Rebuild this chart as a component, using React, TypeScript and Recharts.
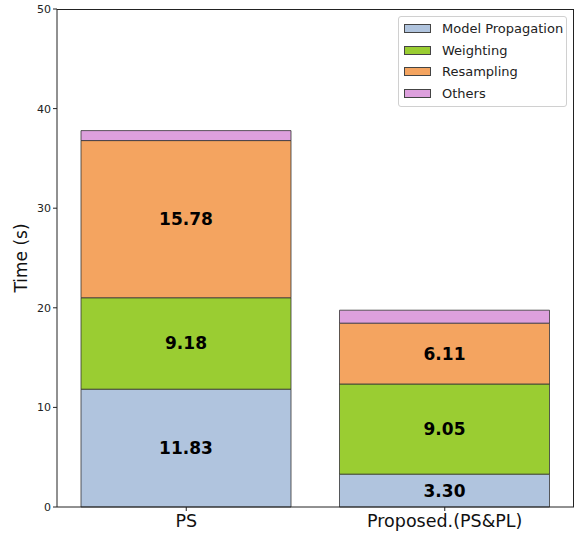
import React from 'react';
import { BarChart, Bar, XAxis, YAxis, LabelList } from 'recharts';

const categories = ['PS', 'Proposed.(PS&PL)'];
const modelPropagation = [11.83, 3.30];
const weighting = [9.18, 9.05];
const resampling = [15.78, 6.11];
const others = [1.0, 1.3];
const yTicks = [0, 10, 20, 30, 40, 50];

const seriesNames = ['Model Propagation', 'Weighting', 'Resampling', 'Others'];
const seriesKeys = ['mp', 'w', 'r', 'o'];
const seriesColors = ['#B0C4DE', '#9ACD32', '#F4A460', '#DDA0DD'];

const data = categories.map((c, i) => ({
  name: c,
  mp: modelPropagation[i],
  w: weighting[i],
  r: resampling[i],
  o: others[i],
}));

const FONT = 'DejaVu Sans, sans-serif';

const LegendBox = () => (
  <div
    style={{
      position: 'absolute',
      left: 398,
      top: 16,
      border: '1px solid #d0d0d0',
      borderRadius: 3,
      background: 'rgba(255,255,255,0.8)',
      width: 169,
      height: 91,
      boxSizing: 'border-box',
      padding: '1px 0 0 5px',
      fontFamily: FONT,
      fontSize: 13,
      color: '#222',
    }}
  >
    {seriesNames.map((n, i) => (
      <div key={n} style={{ display: 'flex', alignItems: 'center', height: 21.5 }}>
        <div
          style={{
            width: 27,
            height: 9,
            background: seriesColors[i],
            border: '1px solid #444',
            marginRight: 11,
            boxSizing: 'border-box',
          }}
        />
        <span>{n}</span>
      </div>
    ))}
  </div>
);

export default function App() {
  return (
    <div style={{ position: 'absolute', left: 0, top: 0, width: 576, height: 537, background: '#fff' }}>
      <BarChart
        width={576}
        height={537}
        data={data}
        margin={{ top: 9, right: 2, bottom: 0, left: 0 }}
        barSize={210}
      >
        <XAxis
          dataKey="name"
          height={30}
          tickLine={{ stroke: '#222' }}
          axisLine={{ stroke: '#222' }}
          tickSize={4}
          tickMargin={4}
          tick={{ fontSize: 17.5, fill: '#111', fontFamily: FONT }}
          interval={0}
        />
        <YAxis
          width={57}
          domain={[0, 50]}
          ticks={yTicks}
          tickLine={{ stroke: '#222' }}
          axisLine={{ stroke: '#222' }}
          tickSize={4}
          tick={{ fontSize: 11, fill: '#222', fontFamily: FONT }}
          label={{ value: 'Time (s)', angle: -90, position: 'insideLeft', offset: 21, style: { fontSize: 17, fill: '#111', fontFamily: FONT, textAnchor: 'middle' } }}
        />
        {seriesKeys.map((k, i) => (
          <Bar
            key={k}
            dataKey={k}
            name={seriesNames[i]}
            stackId="a"
            fill={seriesColors[i]}
            stroke="#333"
            strokeWidth={0.8}
            isAnimationActive={false}
          >
            {i < 3 && (
              <LabelList
                dataKey={k}
                position="center"
                formatter={(v: any) => Number(v).toFixed(2)}
                style={{ fontSize: 17, fontWeight: 'bold', fill: '#000', fontFamily: FONT }}
              />
            )}
          </Bar>
        ))}
      </BarChart>
      <div
        style={{
          position: 'absolute',
          left: 57,
          top: 9,
          width: 517,
          height: 498,
          borderTop: '1px solid #222',
          borderRight: '1px solid #222',
          boxSizing: 'border-box',
          pointerEvents: 'none',
        }}
      />
      <LegendBox />
    </div>
  );
}
